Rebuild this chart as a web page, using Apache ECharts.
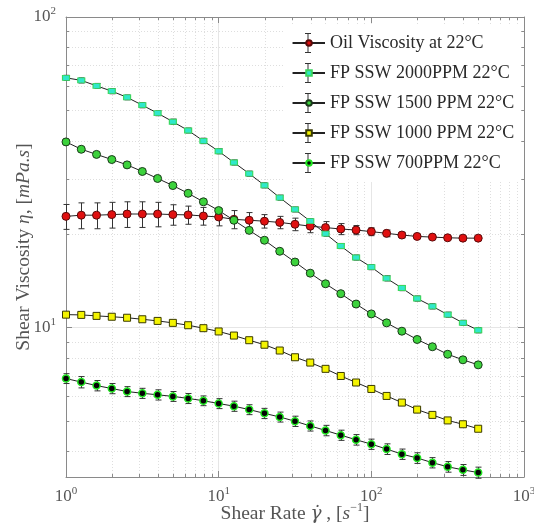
<!DOCTYPE html>
<html>
<head>
<meta charset="utf-8">
<script src="https://cdn.jsdelivr.net/npm/echarts@6/dist/echarts.min.js"></script>
<style>html,body{margin:0;padding:0;background:#fff}#c{width:534px;height:526px}</style>
</head>
<body>
<div id="c"></div>
<script>
// ---- data ----
var shearRate = [1, 1.259, 1.585, 1.995, 2.512, 3.162, 3.981, 5.012, 6.31, 7.943, 10, 12.59, 15.85, 19.95, 25.12, 31.62, 39.81, 50.12, 63.1, 79.43, 100, 125.9, 158.5, 199.5, 251.2, 316.2, 398.1, 501.2];
var oilVisc = [22.8, 23.0, 23.0, 23.1, 23.2, 23.2, 23.2, 23.1, 23.05, 22.86, 22.7, 22.3, 22.15, 22.0, 21.8, 21.5, 21.2, 20.98, 20.76, 20.6, 20.36, 20.1, 19.85, 19.65, 19.55, 19.45, 19.4, 19.4];
var oilErr = [2.1, 2.2, 2.2, 2.2, 2.2, 2.2, 2.1, 1.75, 1.55, 1.5, 1.45, 1.5, 1.3, 1.1, 1.0, 1.0, 1.0, 0.95, 0.85, 0.7, 0.6, 0.5, 0.4, 0.3, 0.25, 0.2, 0.2, 0.15];
var ssw2000 = [63.7, 62.5, 60.0, 57.7, 55.1, 52.0, 49.0, 46.0, 43.1, 39.9, 36.95, 34.0, 31.3, 28.7, 26.2, 24.0, 22.0, 20.05, 18.3, 16.8, 15.65, 14.4, 13.4, 12.4, 11.7, 11.0, 10.35, 9.8];
var ssw2000Err = [1.2, 1.2, 1.1, 1.1, 1.0, 1.0, 0.9, 0.9, 0.8, 0.8, 0.7, 0.65, 0.6, 0.55, 0.5, 0.45, 0.42, 0.38, 0.35, 0.32, 0.3, 0.28, 0.26, 0.24, 0.23, 0.21, 0.2, 0.19];
var ssw1500 = [39.6, 37.5, 36.1, 34.75, 33.4, 31.8, 30.2, 28.65, 27.05, 25.4, 23.8, 22.15, 20.55, 19.1, 17.6, 16.25, 14.96, 13.83, 12.85, 11.9, 11.06, 10.35, 9.73, 9.15, 8.67, 8.2, 7.87, 7.58];
var ssw1000 = [11.0, 10.98, 10.9, 10.83, 10.75, 10.63, 10.5, 10.35, 10.17, 9.95, 9.71, 9.42, 9.1, 8.80, 8.43, 8.02, 7.71, 7.36, 6.98, 6.65, 6.34, 6.02, 5.73, 5.44, 5.23, 5.02, 4.88, 4.72];
var ssw700 = [6.85, 6.67, 6.50, 6.36, 6.22, 6.14, 6.07, 6.0, 5.91, 5.81, 5.69, 5.58, 5.44, 5.29, 5.15, 4.99, 4.82, 4.66, 4.50, 4.35, 4.21, 4.06, 3.91, 3.80, 3.67, 3.56, 3.48, 3.41];
var ssw700Err = [0.25, 0.28, 0.25, 0.24, 0.23, 0.23, 0.23, 0.22, 0.22, 0.21, 0.21, 0.21, 0.2, 0.2, 0.19, 0.19, 0.18, 0.18, 0.17, 0.17, 0.16, 0.16, 0.15, 0.15, 0.14, 0.14, 0.14, 0.14];
var seriesNames = ['Oil Viscosity at 22°C', 'FP SSW 2000PPM 22°C', 'FP SSW 1500 PPM 22°C', 'FP SSW 1000 PPM 22°C', 'FP SSW 700PPM 22°C'];
var xMin = 1, xMax = 1000, yMin = 3.3, yMax = 100;
var xMinorTicks = [2,3,4,5,6,7,8,9,20,30,40,50,60,70,80,90,200,300,400,500,600,700,800,900];
var yMinorTicks = [4,5,6,7,8,9,20,30,40,50,60,70,80,90];

// ---- styling ----
var FONT = 'Liberation Serif';
var axisGrey = '#8a8a8a';
var textGrey = '#555';

function zip(x, y, e) {
  return x.map(function (v, i) { return e ? [v, y[i], e[i]] : [v, y[i]]; });
}
function powLabel(v) {
  var l = Math.log10(v), e = Math.round(l);
  if (Math.abs(l - e) > 1e-6) return '';
  return '{b|10}{sup|' + e + '}';
}
var labelRich = {
  b: { fontSize: 17, fontFamily: FONT, color: textGrey, lineHeight: 22 },
  sup: { fontSize: 11, fontFamily: FONT, color: textGrey, verticalAlign: 'top', lineHeight: 22, padding: [0, 0, 8, 0] }
};

function errRender(params, api) {
  var x = api.value(0), y = api.value(1), e = api.value(2);
  var top = api.coord([x, y + e]);
  var bot = api.coord([x, y - e]);
  var cx = Math.round(top[0]) + 0.5;
  var hw = 3;
  var st = { stroke: '#333', lineWidth: 1 };
  return { type: 'group', children: [
    { type: 'line', shape: { x1: cx, y1: top[1], x2: cx, y2: bot[1] }, style: st },
    { type: 'line', shape: { x1: cx - hw, y1: top[1], x2: cx + hw, y2: top[1] }, style: st },
    { type: 'line', shape: { x1: cx - hw, y1: bot[1], x2: cx + hw, y2: bot[1] }, style: st }
  ]};
}
function minorXRender(params, api) {
  var cs = params.coordSys;
  var px = Math.round(api.coord([api.value(0), 10])[0]) + 0.5;
  return { type: 'group', children: [
    { type: 'line', shape: { x1: px, y1: cs.y, x2: px, y2: cs.y + cs.height }, style: { stroke: '#dedede', lineWidth: 1, lineDash: [1, 2] } },
    { type: 'line', shape: { x1: px, y1: cs.y + cs.height, x2: px, y2: cs.y + cs.height - 3 }, style: { stroke: axisGrey, lineWidth: 1 } },
    { type: 'line', shape: { x1: px, y1: cs.y, x2: px, y2: cs.y + 3 }, style: { stroke: axisGrey, lineWidth: 1 } }
  ]};
}
function minorYRender(params, api) {
  var cs = params.coordSys;
  var py = Math.round(api.coord([10, api.value(1)])[1]) + 0.5;
  return { type: 'group', children: [
    { type: 'line', shape: { x1: cs.x, y1: py, x2: cs.x + cs.width, y2: py }, style: { stroke: '#dedede', lineWidth: 1, lineDash: [1, 2] } },
    { type: 'line', shape: { x1: cs.x, y1: py, x2: cs.x + 3, y2: py }, style: { stroke: axisGrey, lineWidth: 1 } },
    { type: 'line', shape: { x1: cs.x + cs.width, y1: py, x2: cs.x + cs.width - 3, y2: py }, style: { stroke: axisGrey, lineWidth: 1 } }
  ]};
}

var lineStyle = { color: '#222', width: 1 };
function lineSeries(name, data, symbol, size, fill, border, bw) {
  return {
    name: name, type: 'line', data: data, symbol: symbol, symbolSize: size,
    lineStyle: lineStyle, itemStyle: { color: fill, borderColor: border, borderWidth: bw || 1 },
    z: 4, animation: false, silent: true
  };
}
function errSeries(data) {
  return { type: 'custom', renderItem: errRender, data: data, encode: { x: 0, y: 1 }, z: 3, animation: false, silent: true };
}

var axisCommon = {
  axisLine: { show: true, onZero: false, lineStyle: { color: axisGrey, width: 1 } },
  axisTick: { show: true, inside: true, length: 6, lineStyle: { color: axisGrey } },
  minorTick: { show: false },
  splitLine: { show: false }
};
function mk(base, extra) { return Object.assign({}, JSON.parse(JSON.stringify(base)), extra); }

var legendText = { fontSize: 18, fontFamily: FONT, color: '#2a2a2a', lineHeight: 22 };
var errIcon = 'path://M0,9.5h32v1h-32z M15.5,0h1v20h-1z M13,0h6v1h-6z M13,19h6v1h-6z';
var NAME_FS = 19.5;

var option = {
  animation: false,
  backgroundColor: '#fff',
  grid: { left: 66, top: 17, right: 10, bottom: 49, containLabel: false, outerBoundsMode: 'none' },
  legend: [
    {
      data: seriesNames.map(function (n) { return { name: n, icon: errIcon }; }),
      orient: 'vertical', left: 284, top: 24, padding: 8, itemGap: 8,
      itemWidth: 32, itemHeight: 20, selectedMode: false,
      itemStyle: { color: '#333', borderWidth: 0 },
      lineStyle: { width: 0 },
      textStyle: Object.assign({}, legendText, { color: 'rgba(0,0,0,0)' }),
      backgroundColor: '#fff', z: 5
    },
    {
      data: seriesNames,
      orient: 'vertical', left: 292, top: 32, padding: 0, itemGap: 8,
      itemWidth: 32, itemHeight: 7, selectedMode: false,
      textStyle: legendText, z: 6
    }
  ],
  xAxis: [
    mk(axisCommon, {
      type: 'log', logBase: 10, min: xMin, max: xMax, position: 'bottom',
      splitLine: { show: true, lineStyle: { color: '#e6e6e6', width: 1 } },
      axisLabel: { formatter: powLabel, rich: labelRich, margin: 9, showMaxLabel: true },
      name: 'Shear Rate {g|γ\u0307} , [{i|s}{sup|\u22121}]', nameLocation: 'middle', nameGap: 25, nameMoveOverlap: false,
      nameTextStyle: {
        fontSize: NAME_FS, fontFamily: FONT, color: textGrey,
        rich: {
          g: { fontSize: NAME_FS - 1, fontFamily: 'DejaVu Serif', fontStyle: 'italic', color: textGrey, lineHeight: 24 },
          i: { fontSize: NAME_FS, fontFamily: FONT, fontStyle: 'italic', color: textGrey, lineHeight: 24 },
          sup: { fontSize: 12, fontFamily: FONT, color: textGrey, verticalAlign: 'top', lineHeight: 24, padding: [0, 0, 8, 0] }
        }
      }
    }),
    mk(axisCommon, {
      type: 'log', logBase: 10, min: xMin, max: xMax, position: 'top',
      axisLabel: { show: false }
    })
  ],
  yAxis: [
    mk(axisCommon, {
      type: 'log', logBase: 10, min: yMin, max: yMax, position: 'left',
      splitLine: { show: true, lineStyle: { color: '#e6e6e6', width: 1 } },
      axisLabel: { formatter: powLabel, rich: labelRich, margin: 10 },
      name: 'Shear Viscosity {i|η}, [{i|mPa.s}]', nameLocation: 'middle', nameGap: 32, nameMoveOverlap: false,
      nameTextStyle: {
        fontSize: NAME_FS, fontFamily: FONT, color: textGrey,
        rich: { i: { fontSize: NAME_FS, fontFamily: FONT, fontStyle: 'italic', color: textGrey } }
      }
    }),
    mk(axisCommon, {
      type: 'log', logBase: 10, min: yMin, max: yMax, position: 'right',
      axisLabel: { show: false }
    })
  ],
  series: [
    { type: 'custom', renderItem: minorXRender, data: xMinorTicks.map(function (v) { return [v, 10]; }), encode: { x: 0, y: 1 }, z: 1, silent: true, animation: false },
    { type: 'custom', renderItem: minorYRender, data: yMinorTicks.map(function (v) { return [10, v]; }), encode: { x: 0, y: 1 }, z: 1, silent: true, animation: false },
    errSeries(zip(shearRate, oilVisc, oilErr)),
    errSeries(zip(shearRate, ssw2000, ssw2000Err)),
    errSeries(zip(shearRate, ssw700, ssw700Err)),
    lineSeries(seriesNames[0], zip(shearRate, oilVisc), 'circle', 8, '#e01010', '#5a0a0a', 1),
    lineSeries(seriesNames[1], zip(shearRate, ssw2000), 'rect', [7, 5], '#2fe8cc', '#3ad860', 1),
    lineSeries(seriesNames[2], zip(shearRate, ssw1500), 'circle', 8, '#3cd23c', '#1a3a1a', 1),
    lineSeries(seriesNames[3], zip(shearRate, ssw1000), 'rect', 7, '#f4f400', '#3a3a00', 1),
    lineSeries(seriesNames[4], zip(shearRate, ssw700), 'circle', 7, '#050505', '#22e622', 1.5)
  ]
};
var chart = echarts.init(document.getElementById('c'), null, { renderer: 'canvas' });
chart.setOption(option);
</script>
</body>
</html>
